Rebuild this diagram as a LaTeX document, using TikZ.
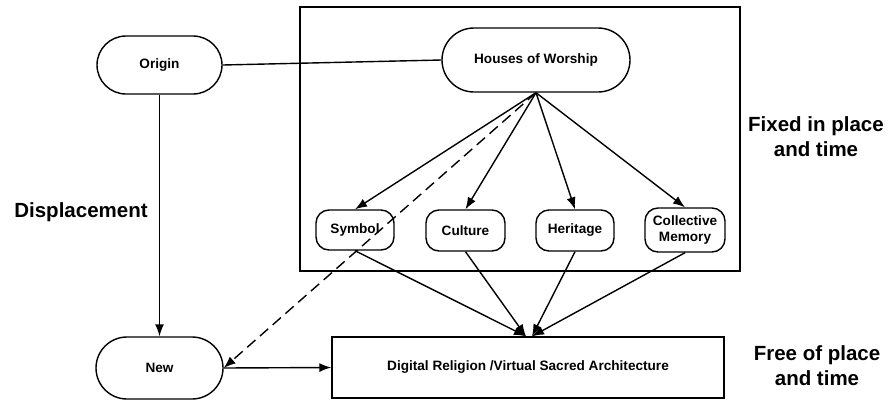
\documentclass[tikz,border=0pt]{standalone}
\usepackage{fontspec}
\setmainfont{Liberation Sans}
\usetikzlibrary{arrows.meta,shapes.misc}
\begin{document}
\begin{tikzpicture}[x=1pt,y=-1pt,
  line width=1.4pt,
  every node/.style={font=\fontsize{13.6}{16}\selectfont\bfseries},
  stadium/.style={draw, rounded rectangle, inner sep=0pt},
  smallbox/.style={draw, rounded corners=13pt, inner sep=0pt, align=center},
  plainbox/.style={draw, inner sep=0pt},
  side/.style={font=\fontsize{20.5}{25}\selectfont\bfseries, align=center},
  arr/.style={-{Latex[length=12pt,width=9pt]}},
  ]
\useasboundingbox (0,0) rectangle (889,400);
% frame
\node[plainbox, minimum width=440pt, minimum height=264pt] (frame) at (520,139) {};
% nodes
\node[stadium, minimum width=125pt, minimum height=58pt] (origin) at (159.5,65) {Origin};
\node[stadium, minimum width=188pt, minimum height=64pt] (how) at (536,60) {Houses of Worship};
\node[stadium, minimum width=127pt, minimum height=62pt] (new) at (159.5,368) {New};
\node[smallbox, minimum width=78pt, minimum height=40pt] (sym) at (355,230) {Symbol};
\node[smallbox, minimum width=79pt, minimum height=41pt] (cul) at (465.5,230.5) {Culture};
\node[smallbox, minimum width=78pt, minimum height=41pt] (her) at (575,230.5) {Heritage};
\node[smallbox, minimum width=80pt, minimum height=44pt] (col) at (685,230) {Collective\\Memory};
\node[plainbox, minimum width=392pt, minimum height=61pt] (dig) at (528,367.5) {Digital Religion /Virtual Sacred Architecture};
% side labels
\node[side] (disp) at (81,212) {Displacement};
\node[side] (fixed) at (816,137) {Fixed in place\\and time};
\node[side] (free) at (817,366) {Free of place\\and time};
% connectors
\draw (origin.east) -- (how.west);
\draw[arr] (origin.south) -- (new.north);
\draw[arr] (how.south) -- (sym.north);
\draw[arr] (how.south) -- (cul.north);
\draw[arr] (how.south) -- (her.north);
\draw[arr] (how.south) -- (col.north);
\draw[arr, dash pattern=on 11pt off 6pt] (how.south) -- (new.east);
\draw[arr] (new.east) -- (dig.west);
\draw[arr] (sym.south) -- ([xshift=-2pt]dig.north);
\draw[arr] (cul.south) -- ([xshift=-2pt]dig.north);
\draw[arr] (her.south) -- ([xshift=4pt]dig.north);
\draw[arr] (col.south) -- ([xshift=4pt]dig.north);
\end{tikzpicture}
\end{document}
